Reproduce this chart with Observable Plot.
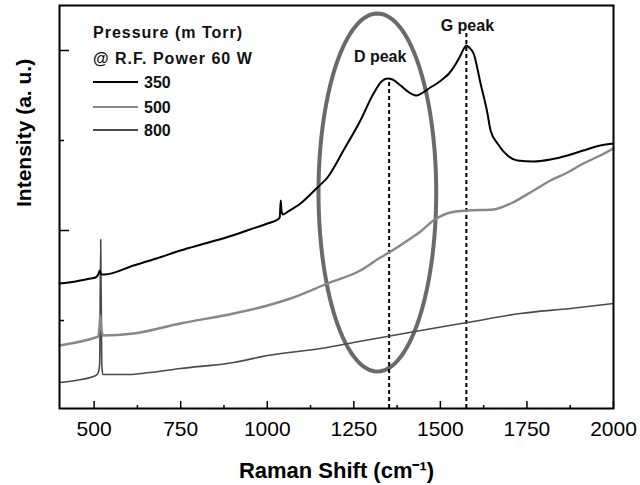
<!DOCTYPE html>
<html>
<head>
<meta charset="utf-8">
<script src="https://cdn.jsdelivr.net/npm/d3@7"></script>
<script src="https://cdn.jsdelivr.net/npm/@observablehq/plot@0.6"></script>
<style>
  html, body { margin: 0; padding: 0; background: white; }
  #chart { width: 640px; height: 485px; }
</style>
</head>
<body>
<div id="chart"></div>
<script>
// ---- Data ----
const wn350 = [400, 446, 490, 504, 512, 516, 520, 530, 614, 680, 749, 820, 900, 950, 1001, 1030, 1036, 1039, 1041, 1045, 1060, 1096, 1145, 1174, 1220, 1269, 1307, 1330, 1347, 1362, 1385, 1410, 1431, 1450, 1471, 1490, 1509, 1525, 1538, 1558, 1568, 1575, 1583, 1596, 1616, 1636, 1645, 1665, 1694, 1723, 1769, 1818, 1867, 1913, 1962, 2000];
const int350 = [125, 127, 130, 131, 134, 138, 134, 134, 143, 150, 158, 165, 173, 179, 185, 189, 191, 208, 198, 194, 197, 205, 221, 231, 258, 288, 315, 327, 330, 329, 323, 316, 313, 316, 321, 325, 330, 335, 341, 353, 360, 363, 361, 355, 325, 295, 278, 265, 253, 248, 247, 249, 253, 258, 263, 265];

const wn500 = [400, 504, 512, 516, 518, 521, 526, 614, 749, 903, 1001, 1067, 1174, 1269, 1327, 1347, 1414, 1443, 1480, 1529, 1578, 1653, 1703, 1769, 1818, 1867, 1913, 1962, 2000];
const int500 = [63, 71, 72, 85, 93, 80, 73, 75, 85, 95, 103, 110, 125, 138, 151, 155, 170, 177, 188, 196, 198, 199, 205, 218, 228, 236, 245, 253, 260];

const wn800 = [400, 446, 505, 512, 516, 519, 522, 525, 600, 660, 749, 903, 1001, 1154, 1249, 1443, 1578, 1731, 1876, 2000];
const int800 = [26, 28, 33, 36, 45, 169, 45, 34, 34, 36, 40, 46, 53, 60, 66, 78, 86, 95, 100, 105];

const seriesNames = ["350", "500", "800"];
const seriesColors = ["#000000", "#888888", "#4a4a4a"];

const peakNames = ["D peak", "G peak"];
const peakShifts = [1352, 1575];
const peakTops = [330, 375];

const xTickLabels = [500, 750, 1000, 1250, 1500, 1750, 2000];
const xMinorTicks = [625, 875, 1125, 1375, 1625, 1875];
const yMajorTicks = [178, 358];
const yMinorTicks = [88, 268];

// highlight ellipse (annotation): center and radii in data units
const ellipseCenter = [1318, 216];
const ellipseRadii = [170, 179];

// ---- Build tables ----
const d350 = wn350.map((x, i) => ({x, y: int350[i]}));
const d500 = wn500.map((x, i) => ({x, y: int500[i]}));
const d800 = wn800.map((x, i) => ({x, y: int800[i]}));
const ellipsePts = d3.range(0, 361, 3).map(a => {
  const t = a * Math.PI / 180;
  return {x: ellipseCenter[0] + ellipseRadii[0] * Math.cos(t), y: ellipseCenter[1] + ellipseRadii[1] * Math.sin(t)};
});
const peaks = peakNames.map((name, i) => ({name, x: peakShifts[i], top: peakTops[i]}));

const FONT = "'Liberation Sans', Arial, Helvetica, sans-serif";

const svg = Plot.plot({
  width: 640,
  height: 485,
  marginLeft: 59,
  marginRight: 27,
  marginTop: 5,
  marginBottom: 77,
  style: {fontFamily: FONT, fontSize: "21px", background: "white", color: "black", overflow: "visible"},
  x: {domain: [400, 2000]},
  y: {domain: [0, 403], axis: null},
  marks: [
    Plot.line(ellipsePts, {x: "x", y: "y", stroke: "#6a6a6a", strokeWidth: 4, curve: "linear"}),
    Plot.ruleX(peaks, {x: "x", y1: 0, y2: "top", stroke: "black", strokeWidth: 2, strokeDasharray: "4,3"}),
    Plot.line(d800, {x: "x", y: "y", stroke: seriesColors[2], strokeWidth: 1.6, curve: "monotone-x"}),
    Plot.line(d500, {x: "x", y: "y", stroke: seriesColors[1], strokeWidth: 2.4, curve: "monotone-x"}),
    Plot.line(d350, {x: "x", y: "y", stroke: seriesColors[0], strokeWidth: 2, curve: "monotone-x"}),
    Plot.text([peaks[0]], {x: "x", y: "top", text: "name", dx: -9, dy: -22, fontSize: 16, fontWeight: "bold", fill: "#111", style: "letter-spacing:0.8px"}),
    Plot.text([peaks[1]], {x: "x", y: "top", text: "name", dx: 1, dy: -8, fontSize: 16, fontWeight: "bold", fill: "#111"}),
    Plot.ruleX(xTickLabels, {x: d => d, insetTop: 396, stroke: "black", strokeWidth: 1.5}),
    Plot.ruleX(xMinorTicks, {x: d => d, insetTop: 400, stroke: "black", strokeWidth: 1.5}),
    Plot.ruleY(yMajorTicks, {y: d => d, insetRight: 544, stroke: "black", strokeWidth: 1.5}),
    Plot.ruleY(yMinorTicks, {y: d => d, insetRight: 549, stroke: "black", strokeWidth: 1.5}),
    Plot.frame({stroke: "black", strokeWidth: 2}),
    Plot.axisX(xTickLabels, {tickSize: 0, tickPadding: 13, label: null, tickFormat: d => String(d), fontSize: 21}),
    Plot.text(["Raman Shift (cm\u207B\u00B9)"], {frameAnchor: "bottom", dy: 62, lineAnchor: "middle", fontSize: 22, fontWeight: "bold", style: "letter-spacing:0.5px"}),
    Plot.text(["Intensity (a. u.)"], {frameAnchor: "left", dx: -35, rotate: -90, lineAnchor: "middle", fontSize: 21, fontWeight: "bold", style: "letter-spacing:1px"})
  ]
});

// ---- Legend inside the plot (top-left) ----
const lg = d3.select(svg).append("g")
  .attr("font-family", FONT).attr("font-size", 16).attr("font-weight", "bold")
  .attr("text-anchor", "start")
  .attr("letter-spacing", "1px").attr("fill", "#111");
lg.append("text").attr("x", 93).attr("y", 38).text("Pressure (m Torr)");
lg.append("text").attr("x", 93).attr("y", 64).text("@ R.F. Power 60 W");
const rowY = [82, 107, 130];
seriesNames.forEach((name, i) => {
  lg.append("line").attr("x1", 93).attr("x2", 138).attr("y1", rowY[i]).attr("y2", rowY[i])
    .attr("stroke", seriesColors[i]).attr("stroke-width", i === 1 ? 2.2 : 1.8);
  lg.append("text").attr("x", 144).attr("y", rowY[i] + 6).attr("letter-spacing", "0px").text(name);
});

document.getElementById("chart").appendChild(svg);
</script>
</body>
</html>
